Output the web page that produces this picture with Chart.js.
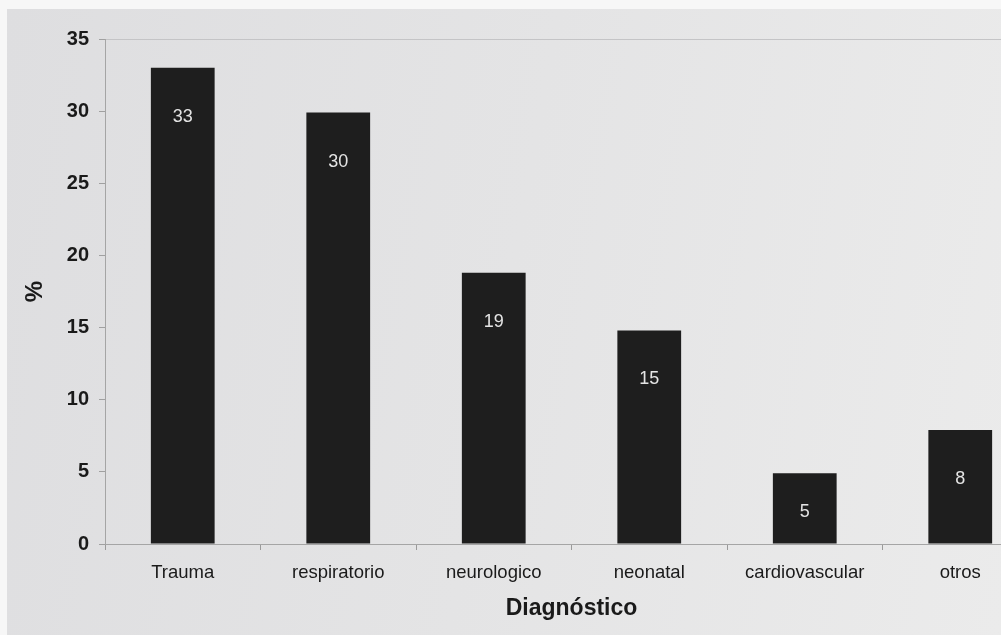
<!DOCTYPE html>
<html>
<head>
<meta charset="utf-8">
<script src="https://cdn.jsdelivr.net/npm/chart.js@4.4.1/dist/chart.umd.min.js"></script>
<style>
  html, body { margin: 0; padding: 0; width: 1001px; height: 635px; overflow: hidden; background: #f7f7f7; }
  #bg { position: absolute; left: 7px; top: 9px; width: 994px; height: 626px;
        background: linear-gradient(100deg, #dedee0 0%, #e4e4e5 50%, #ebebeb 100%); }
  #wrap { position: absolute; left: 0; top: 0; width: 1040px; height: 635px; }
</style>
</head>
<body>
<div id="bg"></div>
<div id="wrap"><canvas id="c"></canvas></div>
<script>
const categories = ["Trauma", "respiratorio", "neurologico", "neonatal", "cardiovascular", "otros"];
const values = [33, 29.9, 18.8, 14.8, 4.9, 7.9];
const valueLabels = ["33", "30", "19", "15", "5", "8"];
const yTicks = [0, 5, 10, 15, 20, 25, 30, 35];

const inBarLabels = {
  id: 'inBarLabels',
  afterDatasetsDraw(chart) {
    const ctx = chart.ctx;
    const meta = chart.getDatasetMeta(0);
    ctx.save();
    ctx.fillStyle = '#e4e4e4';
    ctx.font = '18px "Liberation Sans", Arial, sans-serif';
    ctx.textAlign = 'center';
    ctx.textBaseline = 'middle';
    meta.data.forEach((bar, i) => {
      const offs = Math.min(49, (bar.base - bar.y) * 0.55);
      ctx.fillText(valueLabels[i], bar.x, bar.y + offs);
    });
    ctx.restore();
  }
};

new Chart(document.getElementById('c'), {
  type: 'bar',
  data: {
    labels: categories,
    datasets: [{
      data: values,
      backgroundColor: '#1e1e1e',
      borderWidth: 0,
      categoryPercentage: 1,
      barPercentage: 0.41
    }]
  },
  options: {
    responsive: true,
    maintainAspectRatio: false,
    animation: false,
    layout: { padding: { top: 39, right: 2, left: 0, bottom: 0 } },
    plugins: { legend: { display: false }, tooltip: { enabled: false } },
    scales: {
      x: {
        offset: true,
        grid: { offset: true, drawOnChartArea: false, color: '#9a9a9a', tickColor: '#9a9a9a', tickLength: 6 },
        border: { color: '#a5a5a5', width: 1 },
        ticks: { color: '#1a1a1a', padding: 12, font: { family: '"Liberation Sans", Arial, sans-serif', size: 18.5 } },
        title: { display: true, text: 'Diagnóstico', color: '#1a1a1a', padding: { top: 0, bottom: 13 },
                 font: { family: '"Liberation Sans", Arial, sans-serif', size: 23, weight: 'bold' } },
        afterFit(s) { s.height = 91; }
      },
      y: {
        min: 0, max: 35,
        afterBuildTicks(s) { s.ticks = yTicks.map(v => ({ value: v })); },
        grid: {
          color: (c) => (c.tick && c.tick.value === 35) ? '#c4c4c6' : 'rgba(0,0,0,0)',
          tickColor: '#a0a0a0', tickLength: 6
        },
        border: { color: '#a5a5a5', width: 1 },
        ticks: { color: '#1a1a1a', padding: 10, font: { family: '"Liberation Sans", Arial, sans-serif', size: 20, weight: 'bold' } },
        title: { display: true, text: '%', color: '#1a1a1a', padding: { top: 21, bottom: 0 },
                 font: { family: '"Liberation Sans", Arial, sans-serif', size: 24, weight: 'bold' } },
        afterFit(s) { s.width = 105; }
      }
    }
  },
  plugins: [inBarLabels]
});
</script>
</body>
</html>
